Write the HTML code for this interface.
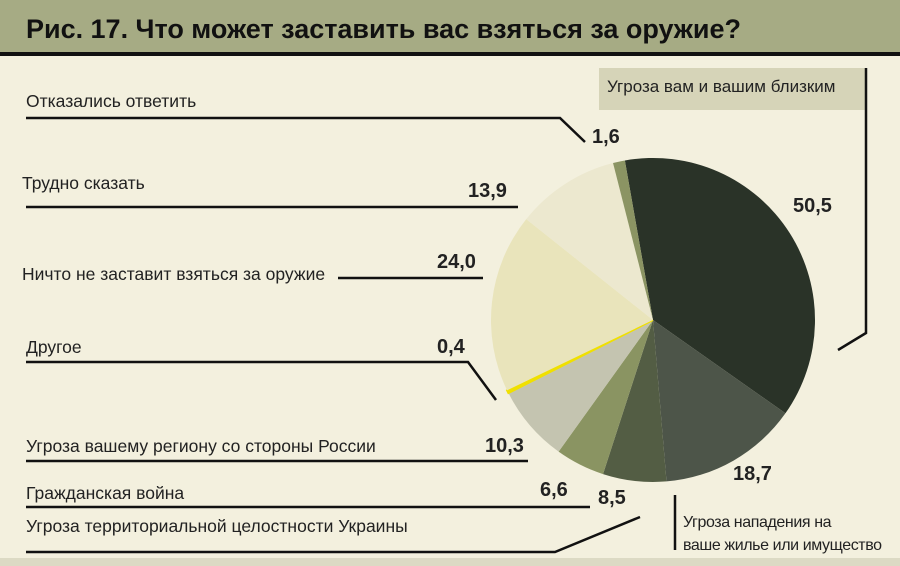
<!DOCTYPE html>
<html><head><meta charset="utf-8"><style>
body{margin:0;width:900px;height:566px;overflow:hidden;background:#f3f0de;font-family:"Liberation Sans","Noto Sans CJK SC",sans-serif}
svg{display:block}
</style></head><body>
<svg width="900" height="566">
<rect x="0" y="0" width="900" height="53" fill="#a6ab84"/>
<rect x="0" y="52" width="900" height="4" fill="#111"/>
<text x="26" y="38" font-size="27" font-weight="bold" fill="#111" textLength="715">Рис. 17. Что может заставить вас взяться за оружие?</text>
<rect x="599" y="68" width="266" height="42" fill="#d6d4b8"/>
<text x="607" y="92" font-size="17" fill="#222">Угроза вам и вашим близким</text>
<polyline points="866,68 866,333 838,350" fill="none" stroke="#111" stroke-width="2.5"/>
<g id="slices"></g>
<g id="labels" font-size="17.5" fill="#222"></g>
<g id="vals" font-size="20" font-weight="bold" fill="#222"></g>
<rect x="0" y="558" width="900" height="8" fill="#dcdac4"/>
</svg>
<script>
const categories=["Угроза вам и вашим близким","Угроза нападения на ваше жилье или имущество","Угроза территориальной целостности Украины","Гражданская война","Угроза вашему региону со стороны России","Другое","Ничто не заставит взяться за оружие","Трудно сказать","Отказались ответить"];
const values=[50.5,18.7,8.5,6.6,10.3,0.4,24.0,13.9,1.6];
const valueLabels=["50,5","18,7","8,5","6,6","10,3","0,4","24,0","13,9","1,6"];
const colors=["#2a3328","#4d5549","#535d44","#8a9462","#c4c4b0","#f0e000","#e9e4bb","#ece8cf","#8b9463"];
const NS="http://www.w3.org/2000/svg";
const cx=653,cy=320,r=162,start=-10;
const total=values.reduce((a,b)=>a+b,0);
const g=document.getElementById('slices');
function pt(a,rr){const t=a*Math.PI/180;return [cx+rr*Math.sin(t),cy-rr*Math.cos(t)];}
let a=start;
values.forEach((v,i)=>{
  const sweep=v/total*360;const p1=pt(a,r),p2=pt(a+sweep,r);
  const p=document.createElementNS(NS,'path');
  p.setAttribute('d',`M${cx},${cy}L${p1[0]},${p1[1]}A${r},${r} 0 ${sweep>180?1:0} 1 ${p2[0]},${p2[1]}Z`);
  p.setAttribute('fill',colors[i]);
  if(i===5){p.setAttribute('stroke',colors[i]);p.setAttribute('stroke-width','2');}
  
  
  g.appendChild(p);a+=sweep;
});
const L=document.getElementById('labels'),V=document.getElementById('vals');
const lay=[
 null,
 null,
 ["Угроза территориальной целостности Украины",26,532,"26,552 555,552 640,517",[598,504]],
 ["Гражданская война",26,499,"26,507 590,507",[540,496]],
 ["Угроза вашему региону со стороны России",26,452,"26,461 528,461",[485,452]],
 ["Другое",26,353,"26,362 468,362 496,400",[437,353]],
 ["Ничто не заставит взяться за оружие",22,280,"338,278 483,278",[437,268]],
 ["Трудно сказать",22,189,"26,207 518,207",[468,197]],
 ["Отказались ответить",26,107,"26,118 560,118 585,142",[592,143]]
];
lay.forEach((o,i)=>{if(!o)return;
 const t=document.createElementNS(NS,'text');t.setAttribute('x',o[1]);t.setAttribute('y',o[2]);t.textContent=o[0];
 
 
 L.appendChild(t);
 const pl=document.createElementNS(NS,'polyline');pl.setAttribute('points',o[3]);pl.setAttribute('fill','none');pl.setAttribute('stroke','#111');pl.setAttribute('stroke-width','2.5');
 
 
 L.appendChild(pl);
 const tv=document.createElementNS(NS,'text');tv.setAttribute('x',o[4][0]);tv.setAttribute('y',o[4][1]);tv.textContent=valueLabels[i];
 
 
 V.appendChild(tv);
});
[[0,793,212],[1,733,480]].forEach(([i,x,y])=>{const tv=document.createElementNS(NS,'text');tv.setAttribute('x',x);tv.setAttribute('y',y);tv.textContent=valueLabels[i];
 
 
 V.appendChild(tv);});
const t1=document.createElementNS(NS,'text');t1.setAttribute('x',683);t1.setAttribute('y',527);t1.setAttribute('font-size','16');t1.setAttribute('letter-spacing','-0.4');t1.textContent="Угроза нападения на";


L.appendChild(t1);
const t2=document.createElementNS(NS,'text');t2.setAttribute('x',683);t2.setAttribute('y',550);t2.setAttribute('font-size','16');t2.setAttribute('letter-spacing','-0.4');t2.textContent="ваше жилье или имущество";


L.appendChild(t2);
const vl=document.createElementNS(NS,'line');vl.setAttribute('x1',675);vl.setAttribute('y1',495);vl.setAttribute('x2',675);vl.setAttribute('y2',550);vl.setAttribute('stroke','#111');vl.setAttribute('stroke-width','2.5');


L.appendChild(vl);
</script>
</body></html>
